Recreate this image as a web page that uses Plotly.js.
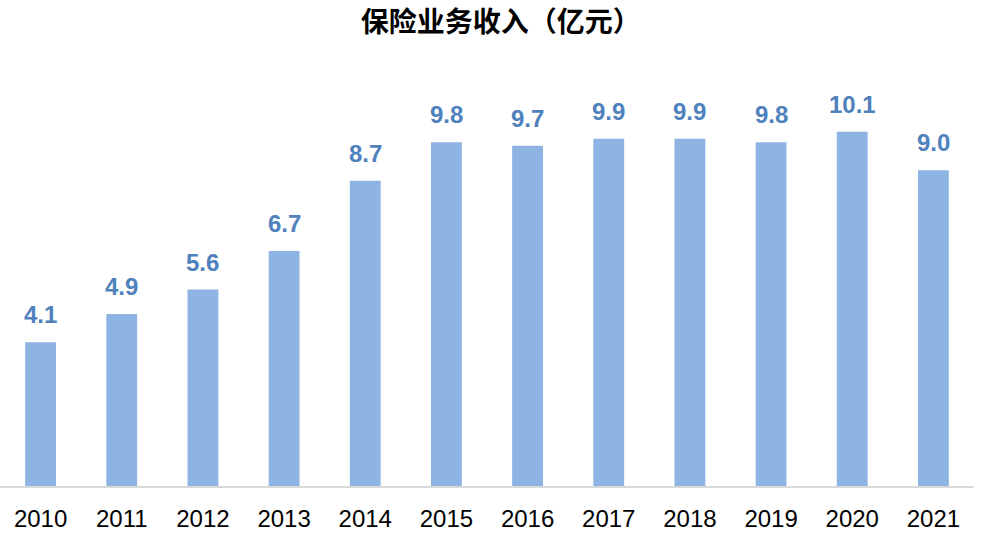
<!DOCTYPE html>
<html>
<head>
<meta charset="utf-8">
<script src="https://cdn.plot.ly/plotly-3.0.1.min.js"></script>
<style>
  html, body { margin: 0; padding: 0; background: #fff; }
  #chart { width: 982px; height: 538px; }
</style>
</head>
<body>
<div id="chart"></div>
<script>
// 保险业务收入（亿元）
var years = ['2010', '2011', '2012', '2013', '2014', '2015', '2016', '2017', '2018', '2019', '2020', '2021'];
var income = [4.1, 4.9, 5.6, 6.7, 8.7, 9.8, 9.7, 9.9, 9.9, 9.8, 10.1, 9.0];

var barColor = '#8EB4E3';
var labelColor = '#4F81BD';

var pos = years.map(function(yr, i) { return i; });

var trace = {
    type: 'bar',
    x: pos,
    y: income,
    width: 0.38,
    marker: { color: barColor },
    hoverinfo: 'y'
};

// value labels above bars
var labels = pos.map(function(p, i) {
    return {
        x: p,
        y: income[i],
        xref: 'x',
        yref: 'y',
        text: income[i].toFixed(1),
        showarrow: false,
        xanchor: 'center',
        yanchor: 'bottom',
        yshift: 12,
        font: { family: 'Liberation Sans, Arial, sans-serif', size: 24, color: labelColor, weight: 'bold' }
    };
});

var layout = {
    width: 982,
    height: 538,
    margin: { t: 65, b: 52, l: 0, r: 8 },
    paper_bgcolor: '#fff',
    plot_bgcolor: '#fff',
    showlegend: false,
    title: {
        text: '<b>保险业务收入（亿元）</b>',
        x: 0.51,
        xanchor: 'center',
        y: 0.958,
        yanchor: 'middle',
        font: { family: 'Noto Sans CJK SC, sans-serif', size: 28, color: '#000' }
    },
    xaxis: {
        range: [-0.5, 11.5],
        tickmode: 'array',
        tickvals: pos,
        ticktext: years,
        showline: true,
        linecolor: '#D9D9D9',
        linewidth: 2,
        ticks: '',
        ticklabelstandoff: 10,
        tickfont: { family: 'Liberation Sans, Arial, sans-serif', size: 24, color: '#000' },
        showgrid: false,
        zeroline: false
    },
    yaxis: {
        range: [0, 12],
        visible: false,
        showgrid: false,
        zeroline: false
    },
    annotations: labels
};

Plotly.newPlot('chart', [trace], layout, { displayModeBar: false, staticPlot: true });
</script>
</body>
</html>
